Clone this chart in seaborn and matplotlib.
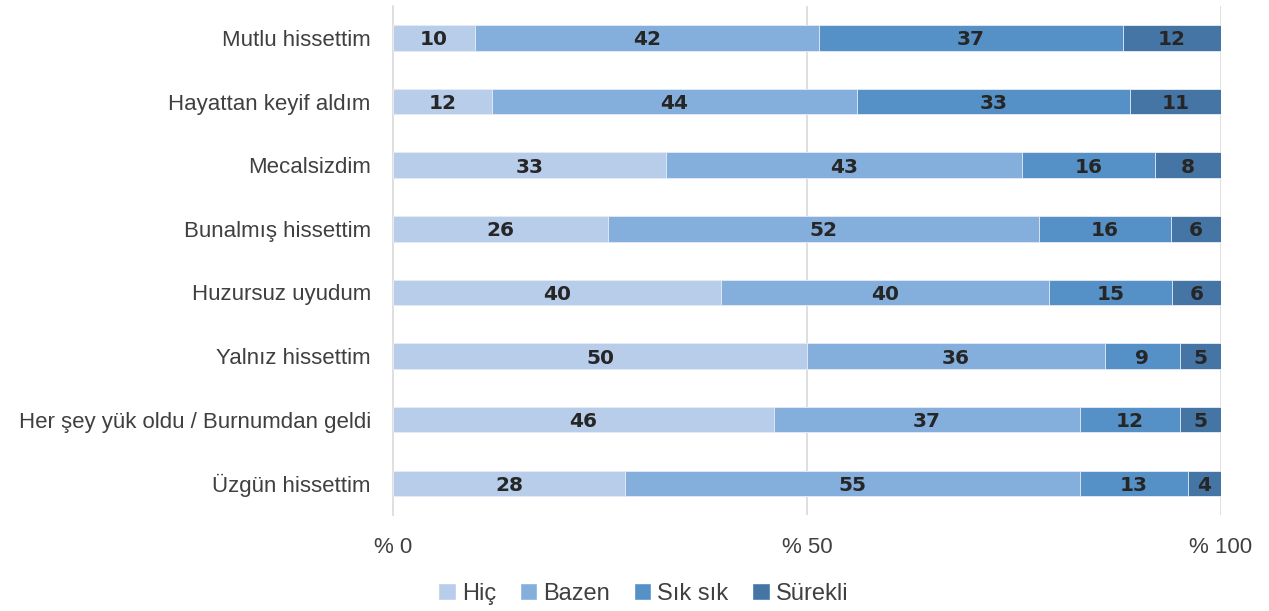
import numpy as np
import pandas as pd
import matplotlib
matplotlib.use("Agg")
import matplotlib.pyplot as plt
from matplotlib.patches import Patch
from matplotlib.ticker import FuncFormatter
import seaborn as sns

# Survey answers (% of respondents)
items = ["Mutlu hissettim", "Hayattan keyif aldım", "Mecalsizdim", "Bunalmış hissettim",
         "Huzursuz uyudum", "Yalnız hissettim", "Her şey yük oldu / Burnumdan geldi",
         "Üzgün hissettim"]
hic = [10, 12, 33, 26, 40, 50, 46, 28]
bazen = [42, 44, 43, 52, 40, 36, 37, 55]
sik_sik = [37, 33, 16, 16, 15, 9, 12, 13]
surekli = [12, 11, 8, 6, 6, 5, 5, 4]

series_names = ["Hiç", "Bazen", "Sık sık", "Sürekli"]
colors = ["#b7cde9", "#84afdc", "#5590c6", "#4575a5"]
x_ticks = [0, 50, 100]

sns.set_theme(style="white")
plt.rcParams['font.family'] = ['Liberation Sans', 'DejaVu Sans']

def main():
    raw = np.array([hic, bazen, sik_sik, surekli], dtype=float)
    share = raw / raw.sum(axis=0) * 100   # 100% stacked
    cum = share.cumsum(axis=0)

    fig = plt.figure(figsize=(12.69, 6.11), dpi=100)
    ax = fig.add_axes([0.3097, 0.157, 0.6525, 0.833])

    # draw cumulative bars back to front so each layer covers the previous one
    for i in range(len(series_names) - 1, -1, -1):
        df = pd.DataFrame({"item": items, "value": cum[i]})
        sns.barplot(data=df, x="value", y="item", orient="h", color=colors[i],
                    saturation=1, width=0.4, ax=ax, zorder=3,
                    edgecolor="#e8eef6", linewidth=0.6)

    # value labels in the middle of each segment
    for i in range(len(series_names)):
        left = cum[i] - share[i]
        for j, item in enumerate(items):
            ax.text(left[j] + share[i][j] / 2, j, f"{int(raw[i][j])}",
                    ha="center", va="center_baseline", fontsize=14.5, fontweight="bold",
                    family="DejaVu Sans", color="#262626", zorder=5)

    ax.set_xlim(0, 100)
    ax.set_ylim(len(items) - 0.5, -0.5)
    ax.set_xticks(x_ticks)
    ax.xaxis.set_major_formatter(FuncFormatter(lambda v, p: f"% {int(v)}"))
    ax.tick_params(axis="x", length=0, pad=16, labelsize=16, labelcolor="#404040")
    ax.tick_params(axis="y", length=0, pad=16, labelsize=16, labelcolor="#404040")
    ax.set_xlabel("")
    ax.set_ylabel("")
    for v in x_ticks[1:]:
        ax.axvline(v, color="#d9d9d9", lw=1.2, zorder=1)
    for s in ["top", "right", "bottom"]:
        ax.spines[s].set_visible(False)
    ax.spines["left"].set_color("#d9d9d9")
    ax.spines["left"].set_linewidth(1.2)

    handles = [Patch(facecolor=c, label=n) for c, n in zip(colors, series_names)]
    fig.legend(handles=handles, loc="lower center", bbox_to_anchor=(0.507, -0.025),
               ncol=4, frameon=False, fontsize=17, handlelength=0.75, handleheight=0.75,
               handletextpad=0.25, columnspacing=1.0, labelcolor="#404040")

    fig.savefig("out.png", dpi=100)
    plt.close(fig)

if __name__ == '__main__':
    main()
